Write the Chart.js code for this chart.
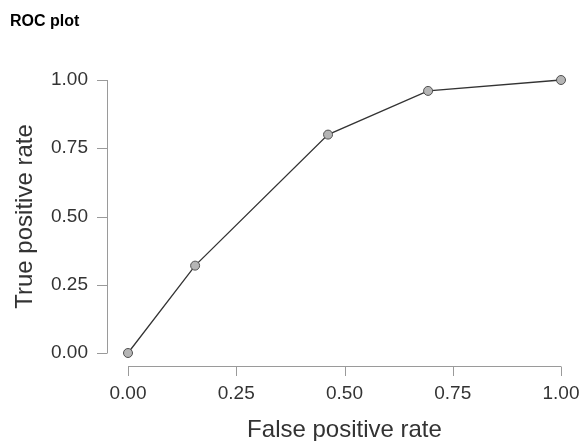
<!DOCTYPE html>
<html>
<head>
<meta charset="utf-8">
<script src="https://cdn.jsdelivr.net/npm/chart.js@4/dist/chart.umd.min.js"></script>
<style>
  html, body { margin: 0; padding: 0; background: #fff; }
  #wrap { width: 582px; height: 441px; }
</style>
</head>
<body>
<div id="wrap"><canvas id="rocChart" width="582" height="441"></canvas></div>
<script>
// ROC points
const falsePositiveRate = [0, 0.155, 0.462, 0.693, 1];
const truePositiveRate = [0, 0.32, 0.80, 0.96, 1];
const tickValues = [0, 0.25, 0.5, 0.75, 1];

const axisColor = "#9a9a9a";
const labelColor = "#333333";

// R-style axes: lines only span the tick range and sit off the plot area
const rangeFrame = {
  id: "rangeFrame",
  afterDraw(chart) {
    const { ctx, chartArea, scales } = chart;
    const xs = scales.x;
    const ys = scales.y;
    const axisX = chartArea.left - 21;
    const axisY = chartArea.bottom + 13;
    const tickLen = 10;
    ctx.save();
    ctx.strokeStyle = axisColor;
    ctx.lineWidth = 1;

    // y axis
    ctx.beginPath();
    ctx.moveTo(axisX + 0.5, ys.getPixelForValue(1));
    ctx.lineTo(axisX + 0.5, ys.getPixelForValue(0));
    tickValues.forEach((v) => {
      const py = Math.round(ys.getPixelForValue(v)) + 0.5;
      ctx.moveTo(axisX - tickLen, py);
      ctx.lineTo(axisX + 0.5, py);
    });
    ctx.stroke();

    // x axis
    ctx.beginPath();
    ctx.moveTo(xs.getPixelForValue(0), axisY + 0.5);
    ctx.lineTo(xs.getPixelForValue(1), axisY + 0.5);
    tickValues.forEach((v) => {
      const px = Math.round(xs.getPixelForValue(v)) + 0.5;
      ctx.moveTo(px, axisY + 0.5);
      ctx.lineTo(px, axisY + tickLen);
    });
    ctx.stroke();
    ctx.restore();
  },
};

const points = falsePositiveRate.map((x, i) => ({ x: x, y: truePositiveRate[i] }));

new Chart(document.getElementById("rocChart").getContext("2d"), {
  type: "scatter",
  data: {
    datasets: [
      {
        data: points,
        showLine: true,
        borderColor: "#333333",
        borderWidth: 1.3,
        pointBackgroundColor: "#b5b5b5",
        pointBorderColor: "#505050",
        pointBorderWidth: 1,
        pointRadius: 4.5,
        pointHoverRadius: 4.5,
        clip: false,
      },
    ],
  },
  options: {
    responsive: false,
    animation: false,
    layout: {
      padding: { left: 10, right: 21, top: 0, bottom: 0 },
    },
    plugins: {
      legend: { display: false },
      tooltip: { enabled: false },
      title: {
        display: true,
        text: "ROC plot",
        align: "start",
        color: "#000000",
        font: { family: "Liberation Sans, Arial, sans-serif", size: 16, weight: "bold" },
        padding: { top: 12, bottom: 48.8 },
      },
    },
    scales: {
      x: {
        type: "linear",
        min: 0,
        max: 1,
        afterBuildTicks: (scale) => {
          scale.ticks = tickValues.map((v) => ({ value: v }));
        },
        afterFit: (scale) => {
          scale.height = 88;
          // keep the plot area wide; the right layout padding already leaves room for "1.00"
          scale.paddingLeft = 0;
          scale.paddingRight = 0;
        },
        grid: { display: false, drawTicks: false },
        border: { display: false },
        ticks: {
          color: labelColor,
          padding: 29,
          maxRotation: 0,
          font: { family: "Liberation Sans, Arial, sans-serif", size: 19 },
          callback: (v) => Number(v).toFixed(2),
        },
        title: {
          display: true,
          text: "False positive rate",
          color: labelColor,
          font: { family: "Liberation Sans, Arial, sans-serif", size: 24 },
          // the reference crops the descenders at the bottom edge
          padding: { top: 0, bottom: -4 },
        },
      },
      y: {
        type: "linear",
        min: 0,
        max: 1,
        afterBuildTicks: (scale) => {
          scale.ticks = tickValues.map((v) => ({ value: v }));
        },
        afterFit: (scale) => {
          scale.width = 118;
        },
        grid: { display: false, drawTicks: false },
        border: { display: false },
        ticks: {
          color: labelColor,
          padding: 40,
          font: { family: "Liberation Sans, Arial, sans-serif", size: 19 },
          callback: (v) => Number(v).toFixed(2),
        },
        title: {
          display: true,
          text: "True positive rate",
          color: labelColor,
          font: { family: "Liberation Sans, Arial, sans-serif", size: 24 },
          padding: { top: 1, bottom: 0 },
        },
      },
    },
  },
  plugins: [rangeFrame],
});
</script>
</body>
</html>
